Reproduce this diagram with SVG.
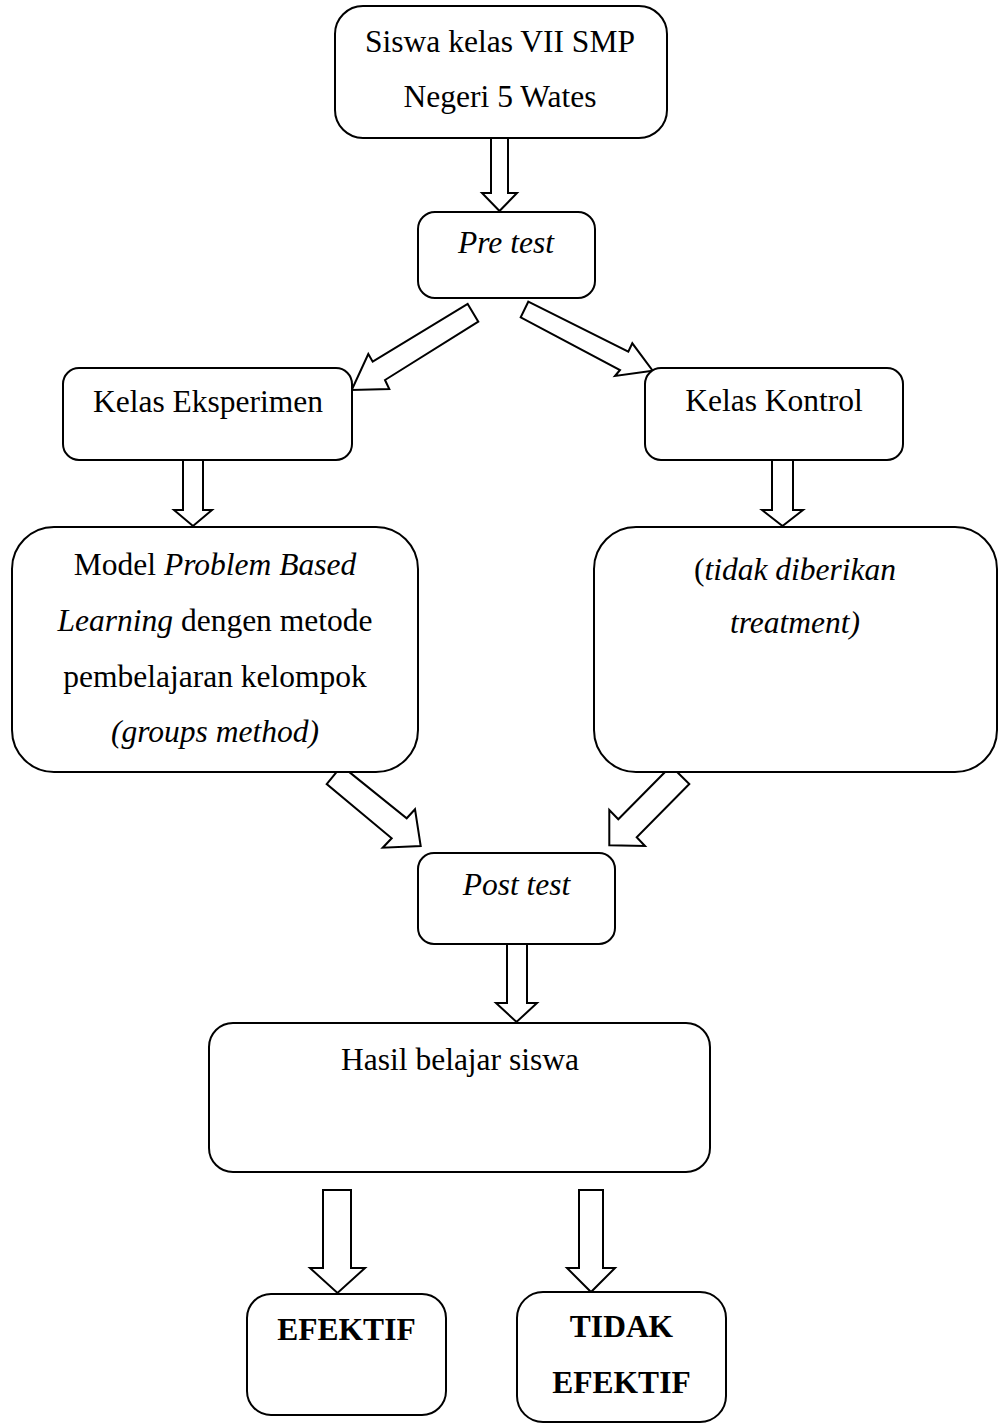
<svg xmlns="http://www.w3.org/2000/svg" width="1000" height="1424" viewBox="0 0 1000 1424">
<style>
.box{fill:#fff;stroke:#000;stroke-width:2}
.arr{fill:#fff;stroke:#000;stroke-width:2;stroke-linejoin:miter}
text{font-family:"Liberation Serif","Times New Roman",serif;font-size:31.5px;fill:#000;text-anchor:middle}
.i{font-style:italic}
.b{font-weight:bold}
</style>
<rect width="1000" height="1424" fill="#fff"/>
<g id="connectors">
<polygon class="arr" points="491,138 508,138 508,193 517,193 499.5,211 482,193 491,193"/>
<polygon class="arr" points="467.7,304 478.3,321.7 385,380 389.3,389 351.7,390 368.3,354 372.7,361.7"/>
<polygon class="arr" points="528.3,301.7 628.3,351.7 632.3,343.3 652.7,370.7 615,376 620,370 520.7,317.3"/>
<polygon class="arr" points="183,460 203,460 203,510 212,510 193,526 174,510 183,510"/>
<polygon class="arr" points="772,460 793,460 793,510 803,510 782.5,526 762,510 772,510"/>
<polygon class="arr" points="341.6,765.9 406.7,818.3 415,809.3 420.7,846 382.7,847.7 391.7,838.3 326.7,784"/>
<polygon class="arr" points="689.3,784 636.7,837.3 645,846 609.3,845.3 609.3,810 618.3,819.3 671,766"/>
<polygon class="arr" points="507,944 527,944 527,1003 537,1003 516.5,1022 496,1003 507,1003"/>
<polygon class="arr" points="323,1190 351,1190 351,1268 365,1268 337.5,1293 310,1268 323,1268"/>
<polygon class="arr" points="579,1190 603,1190 603,1268 615,1268 591,1292 567,1268 579,1268"/>
</g>
<g id="n-siswa">
<rect class="box" x="335" y="6" width="332" height="132" rx="28"/>
<text x="500" y="52">Siswa kelas VII SMP</text>
<text x="500" y="107">Negeri 5 Wates</text>
</g>
<g id="n-pretest">
<rect class="box" x="418" y="212" width="177" height="86" rx="17"/>
<text x="506" y="253" class="i">Pre test</text>
</g>
<g id="n-eksperimen">
<rect class="box" x="63" y="368" width="289" height="92" rx="16"/>
<text x="208" y="412">Kelas Eksperimen</text>
</g>
<g id="n-kontrol">
<rect class="box" x="645" y="368" width="258" height="92" rx="16"/>
<text x="774" y="411">Kelas Kontrol</text>
</g>
<g id="n-pbl">
<rect class="box" x="12" y="527" width="406" height="245" rx="42"/>
<text x="215" y="575">Model <tspan class="i">Problem Based</tspan></text>
<text x="215" y="631"><tspan class="i">Learning</tspan> dengen metode</text>
<text x="215" y="687">pembelajaran kelompok</text>
<text x="215" y="742" class="i">(groups method)</text>
</g>
<g id="n-notreat">
<rect class="box" x="594" y="527" width="403" height="245" rx="42"/>
<text x="795" y="580">(<tspan class="i">tidak diberikan</tspan></text>
<text x="795" y="633" class="i">treatment)</text>
</g>
<g id="n-posttest">
<rect class="box" x="418" y="853" width="197" height="91" rx="16"/>
<text x="516.5" y="895" class="i">Post test</text>
</g>
<g id="n-hasil">
<rect class="box" x="209" y="1023" width="501" height="149" rx="24"/>
<text x="460" y="1070">Hasil belajar siswa</text>
</g>
<g id="n-efektif">
<rect class="box" x="247" y="1294" width="199" height="121" rx="24"/>
<text x="346.5" y="1340" class="b">EFEKTIF</text>
</g>
<g id="n-tidak">
<rect class="box" x="517" y="1292" width="209" height="130" rx="26"/>
<text x="621.5" y="1337" class="b">TIDAK</text>
<text x="621.5" y="1393" class="b">EFEKTIF</text>
</g>
</svg>
